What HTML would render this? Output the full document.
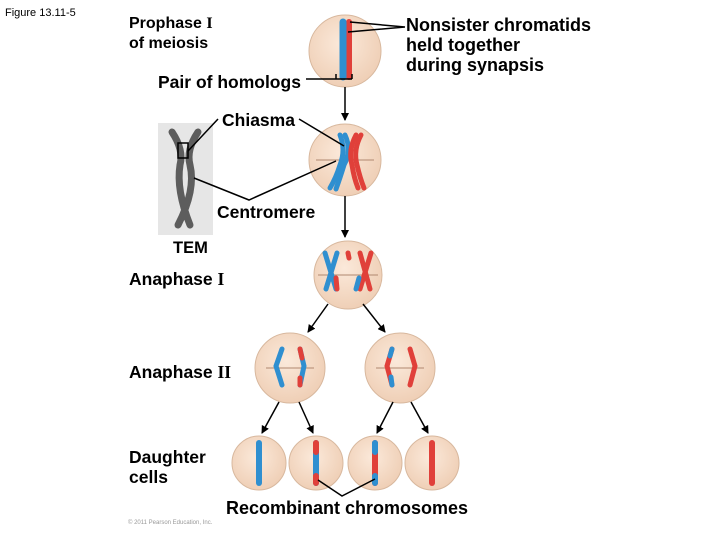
<!DOCTYPE html>
<html><head><meta charset="utf-8"><style>
body{margin:0;background:#fff}
svg{display:block}
text{font-family:"Liberation Sans",sans-serif;font-weight:bold;fill:#000}
</style></head><body>
<svg width="720" height="540" viewBox="0 0 720 540" xmlns="http://www.w3.org/2000/svg">
<defs>
<radialGradient id="c" cx="45%" cy="40%" r="60%"><stop offset="0" stop-color="#fbe9da"/><stop offset="1" stop-color="#efcfb6"/></radialGradient>
<marker id="a" markerWidth="8" markerHeight="8" refX="7" refY="4" orient="auto" markerUnits="userSpaceOnUse"><path d="M0,0 L8,4 L0,8z" fill="#000"/></marker>
</defs>
<text x="5" y="16" font-size="11" style="font-weight:normal">Figure 13.11-5</text>
<text x="129" y="28" font-size="16">Prophase <tspan font-family="Liberation Serif">I</tspan></text>
<text x="129" y="48" font-size="16">of meiosis</text>
<text x="406" y="31" font-size="18">Nonsister chromatids</text>
<text x="406" y="51" font-size="18">held together</text>
<text x="406" y="71" font-size="18">during synapsis</text>
<text x="158" y="88" font-size="17.5">Pair of homologs</text>
<text x="222" y="126" font-size="17.5">Chiasma</text>
<text x="217" y="218" font-size="17.5">Centromere</text>
<text x="173" y="253" font-size="16.5">TEM</text>
<text x="129" y="285" font-size="17.5">Anaphase <tspan font-family="Liberation Serif">I</tspan></text>
<text x="129" y="378" font-size="17.5">Anaphase <tspan font-family="Liberation Serif">II</tspan></text>
<text x="129" y="463" font-size="17.5">Daughter</text>
<text x="129" y="483" font-size="17.5">cells</text>
<text x="226" y="514" font-size="18">Recombinant chromosomes</text>
<text x="128" y="524" font-size="6" style="font-weight:normal;fill:#999">© 2011 Pearson Education, Inc.</text>

<rect x="158" y="123" width="55" height="112" fill="#e6e6e6"/>
<path d="M172,132 Q184,150 180,165 Q176,190 190,225 M198,132 Q186,150 190,165 Q196,190 178,225" stroke="#444" stroke-width="7" fill="none" stroke-linecap="round" opacity="0.85"/>
<rect x="178" y="143" width="10" height="15" fill="none" stroke="#000" stroke-width="1.5"/>

<g fill="url(#c)" stroke="#d8b89e" stroke-width="1">
<circle cx="345" cy="51" r="36"/>
<circle cx="345" cy="160" r="36"/>
<circle cx="348" cy="275" r="34"/>
<circle cx="290" cy="368" r="35"/>
<circle cx="400" cy="368" r="35"/>
<circle cx="259" cy="463" r="27"/>
<circle cx="316" cy="463" r="27"/>
<circle cx="375" cy="463" r="27"/>
<circle cx="432" cy="463" r="27"/>
</g>
<g stroke="#b08870" stroke-width="1">
<path d="M316,160 H374 M318,275 H378 M266,368 H314 M376,368 H424"/>
</g>

<g stroke-linecap="round" fill="none">
<path d="M349,22 V77" stroke="#e0403a" stroke-width="6"/>
<path d="M343,22 V77" stroke="#2f8fd0" stroke-width="7"/>
<path d="M340,135 Q346,150 340,165 Q336,178 330,188" stroke="#2f8fd0" stroke-width="5"/>
<path d="M345,135 Q352,150 344,165 Q340,178 336,189" stroke="#2f8fd0" stroke-width="5"/>
<path d="M356,135 Q348,150 352,165 Q354,178 358,188" stroke="#e0403a" stroke-width="5"/>
<path d="M361,135 Q353,150 357,165 Q360,178 364,188" stroke="#e0403a" stroke-width="5"/>
<path d="M325,253 L336,289 M337,253 L326,289" stroke="#2f8fd0" stroke-width="5"/>
<path d="M336,278 L337,289" stroke="#e0403a" stroke-width="5"/>
<path d="M360,253 L370,289 M371,253 L360,289" stroke="#e0403a" stroke-width="5"/>
<path d="M359,278 L356,289" stroke="#2f8fd0" stroke-width="5"/>
<path d="M348,253 L349,258" stroke="#e0403a" stroke-width="5"/>
<path d="M282,349 L276,366 L282,385" stroke="#2f8fd0" stroke-width="5"/>
<path d="M300,349 L304,366 L300,385" stroke="#2f8fd0" stroke-width="5"/>
<path d="M300,349 L302,358" stroke="#e0403a" stroke-width="5"/>
<path d="M300,378 L300,385" stroke="#e0403a" stroke-width="5"/>
<path d="M392,349 L387,366 L392,385" stroke="#e0403a" stroke-width="5"/>
<path d="M392,349 L390,356 M391,377 L392,385" stroke="#2f8fd0" stroke-width="5"/>
<path d="M410,349 L415,366 L410,385" stroke="#e0403a" stroke-width="5"/>
<path d="M259,443 V483" stroke="#2f8fd0" stroke-width="6"/>
<path d="M316,443 V483" stroke="#2f8fd0" stroke-width="6"/>
<path d="M316,443 V452 M316,476 V483" stroke="#e0403a" stroke-width="6"/>
<path d="M375,443 V483" stroke="#e0403a" stroke-width="6"/>
<path d="M375,443 V452 M375,476 V483" stroke="#2f8fd0" stroke-width="6"/>
<path d="M432,443 V483" stroke="#e0403a" stroke-width="6"/>
</g>

<g stroke="#000" stroke-width="1.5" fill="none">
<path d="M405,27 L350,22 M405,27 L348,32"/>
<path d="M306,79 L352,79 M336,79 L336,74 M352,79 L352,74"/>
<path d="M188,151 L218,119 M299,119 L344,146"/>
<path d="M194,178 L249,200 L336,161"/>
<path d="M345,87 L345,120" marker-end="url(#a)"/>
<path d="M345,196 L345,237" marker-end="url(#a)"/>
<path d="M328,304 L308,332" marker-end="url(#a)"/>
<path d="M363,304 L385,332" marker-end="url(#a)"/>
<path d="M279,402 L262,433" marker-end="url(#a)"/>
<path d="M299,402 L313,433" marker-end="url(#a)"/>
<path d="M393,402 L377,433" marker-end="url(#a)"/>
<path d="M411,402 L428,433" marker-end="url(#a)"/>
<path d="M318,480 L342,496 L375,479"/>
</g>
</svg>
</body></html>
